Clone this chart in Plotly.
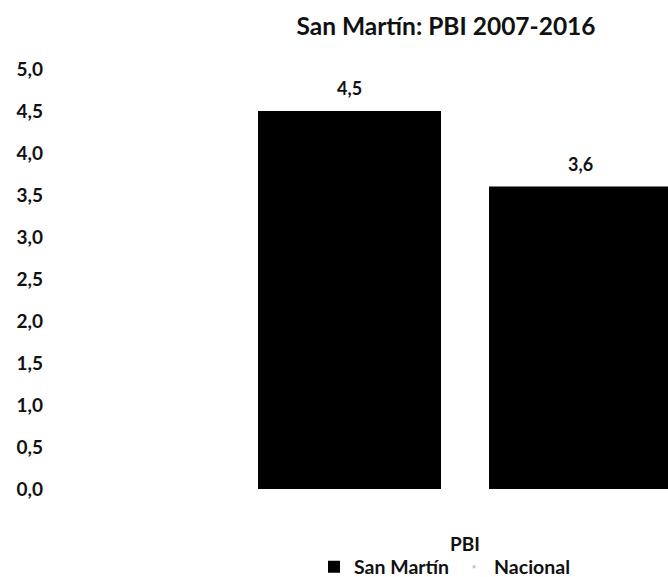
import plotly.graph_objects as go

categories = ["PBI"]
series_names = ["San Martín", "Nacional"]
san_martin = [4.5]
nacional = [3.6]
value_labels_sm = ["4,5"]
value_labels_nac = ["3,6"]
y_tickvals = [0, 0.5, 1, 1.5, 2, 2.5, 3, 3.5, 4, 4.5, 5]
y_ticktext = ["0,0", "0,5", "1,0", "1,5", "2,0", "2,5", "3,0", "3,5", "4,0", "4,5", "5,0"]
title_text = "San Martín: PBI 2007-2016"

FONT = "Lato"
fig = go.Figure()
fig.add_trace(go.Bar(x=categories, y=san_martin, name=series_names[0],
                     marker=dict(color="#000000", line=dict(width=0))))
fig.add_trace(go.Bar(x=categories, y=nacional, name=series_names[1], showlegend=False,
                     marker=dict(color="#000000", line=dict(width=0))))
# legend entry for Nacional (faint marker as in the reference)
fig.add_trace(go.Scatter(x=[None], y=[None], mode="markers", name=series_names[1],
                         marker=dict(symbol="square", size=3, color="#c8c8c8")))

slot_px = 115.5
for vals, labels, shift in [(san_martin, value_labels_sm, -slot_px), (nacional, value_labels_nac, slot_px)]:
    for c, v, t in zip(categories, vals, labels):
        fig.add_annotation(x=c, y=v, text="<b>%s</b>" % t, showarrow=False,
                           xshift=shift, yanchor="bottom", yshift=10,
                           font=dict(family=FONT, size=18, color="#111"))

fig.update_layout(
    width=668, height=577,
    margin=dict(l=50, r=0, t=69, b=88, autoexpand=False),
    paper_bgcolor="white", plot_bgcolor="white",
    barmode="group", bargap=0.2, bargroupgap=0.2078,
    title=dict(text="<b>%s</b>" % title_text, x=446 / 668, xanchor="center",
               y=1 - 26 / 577, yanchor="middle",
               font=dict(family=FONT, size=24.5, color="#111")),
    xaxis=dict(range=[-0.7186, 0.3515], showgrid=False, showline=False, zeroline=False,
               ticks="", tickfont=dict(family=FONT, size=19, color="#111"),
               ticklabelstandoff=42, tickprefix="<b>", ticksuffix="</b>"),
    yaxis=dict(range=[0, 5], tickvals=y_tickvals, ticktext=["<b>%s</b>" % t for t in y_ticktext],
               showgrid=False, showline=False, zeroline=False, ticks="",
               tickfont=dict(family=FONT, size=19, color="#111"), ticklabelstandoff=6),
    legend=dict(orientation="h", x=(314 - 50) / 618, xanchor="left", y=-78 / 420, yanchor="middle",
                font=dict(family=FONT, size=19.5, color="#111"), bgcolor="rgba(0,0,0,0)"),
    showlegend=True,
)
fig.for_each_trace(lambda t: t.update(name="<b>%s</b>" % t.name))
fig.write_html("out.html", config={"displayModeBar": False},
               post_script="document.body.style.margin='0';document.body.style.overflow='hidden';")
